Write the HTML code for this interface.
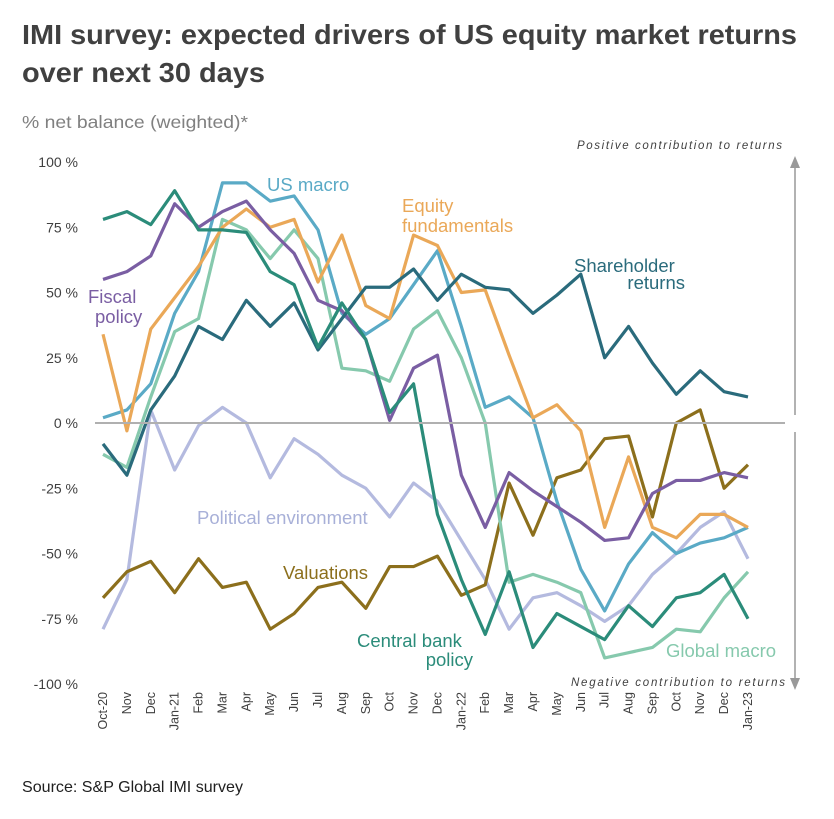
<!DOCTYPE html>
<html><head><meta charset="utf-8"><style>
body{margin:0;background:#fff;font-family:"Liberation Sans",sans-serif;}
svg text{font-family:"Liberation Sans",sans-serif;}
</style></head><body>
<svg width="834" height="814" xmlns="http://www.w3.org/2000/svg">
<text x="22" y="44" font-size="28" font-weight="bold" fill="#404040" textLength="775" lengthAdjust="spacingAndGlyphs">IMI survey: expected drivers of US equity market returns</text>
<text x="22" y="82" font-size="28" font-weight="bold" fill="#404040" textLength="243" lengthAdjust="spacingAndGlyphs">over next 30 days</text>
<text x="22" y="128" font-size="17.5" fill="#808080" textLength="226" lengthAdjust="spacingAndGlyphs">% net balance (weighted)*</text>
<g id="yaxis"></g><g id="xaxis"></g><g id="lines"></g><g id="labels"></g>
<line x1="95" y1="423" x2="785" y2="423" stroke="#b0b0b0" stroke-width="2"/>
<text x="577" y="149" font-size="11.5" font-style="italic" fill="#404040" textLength="205">Positive contribution to returns</text>
<text x="571" y="686" font-size="11.5" font-style="italic" fill="#404040" textLength="214">Negative contribution to returns</text>
<g><line x1="795" y1="165" x2="795" y2="415" stroke="#999" stroke-width="1.5"/><polygon points="790,168 800,168 795,156" fill="#999"/></g>
<g><line x1="795" y1="432" x2="795" y2="680" stroke="#999" stroke-width="1.5"/><polygon points="790,678 800,678 795,690" fill="#999"/></g>
<text x="22" y="792" font-size="16" fill="#202020" textLength="221" lengthAdjust="spacingAndGlyphs">Source: S&amp;P Global IMI survey</text>
</svg>
<script>
const months=["Oct-20","Nov","Dec","Jan-21","Feb","Mar","Apr","May","Jun","Jul","Aug","Sep","Oct","Nov","Dec","Jan-22","Feb","Mar","Apr","May","Jun","Jul","Aug","Sep","Oct","Nov","Dec","Jan-23"];
const yTicks=[100,75,50,25,0,-25,-50,-75,-100];
const shareholder=[-8,-20,5,18,37,32,47,37,46,28,40,52,52,59,47,57,52,51,42,49,57,25,37,23,11,20,12,10];
const centralBank=[78,81,76,89,74,74,73,58,53,29,46,32,4,15,-35,-60,-81,-57,-86,-73,-78,-83,-70,-78,-67,-65,-58,-75];
const globalMacro=[-12,-17,10,35,40,78,74,63,74,63,21,20,16,36,43,25,0,-61,-58,-61,-65,-90,-88,-86,-79,-80,-67,-57];
const usMacro=[2,5,15,42,58,92,92,85,87,74,42,34,40,53,66,37,6,10,2,-30,-56,-72,-54,-42,-50,-46,-44,-40];
const equityFund=[34,-3,36,48,60,75,82,75,78,54,72,45,40,72,68,50,51,26,2,7,-3,-40,-13,-40,-44,-35,-35,-40];
const fiscal=[55,58,64,84,75,81,85,74,65,47,43,32,1,21,26,-20,-40,-19,-26,-32,-38,-45,-44,-27,-22,-22,-19,-21];
const political=[-79,-60,5,-18,-1,6,0,-21,-6,-12,-20,-25,-36,-23,-30,-45,-60,-79,-67,-65,-70,-76,-70,-58,-50,-40,-34,-52];
const valuations=[-67,-57,-53,-65,-52,-63,-61,-79,-73,-63,-61,-71,-55,-55,-51,-66,-62,-23,-43,-21,-18,-6,-5,-36,0,5,-25,-16];
const NS="http://www.w3.org/2000/svg";
const xS=i=>103+i*(748-103)/(months.length-1);
const yS=v=>423-v*2.61;
function mk(t,a,p){const e=document.createElementNS(NS,t);for(const k in a)e.setAttribute(k,a[k]);p.appendChild(e);return e;}
const ya=document.getElementById('yaxis');
yTicks.forEach(v=>{const t=mk('text',{x:78,y:yS(v)+5,'font-size':14,fill:'#404040','text-anchor':'end'},ya);t.textContent=v+' %';

});
const xa=document.getElementById('xaxis');
months.forEach((m,i)=>{const x=xS(i)+4;const t=mk('text',{x:x,y:692,'font-size':12.5,fill:'#404040','text-anchor':'end',transform:`rotate(-90 ${x} 692)`},xa);t.textContent=m;

});
const series=[["political-line",political,"#b4badf"],["valuations-line",valuations,"#8c6f1c"],["global-macro-line",globalMacro,"#86c9ad"],["us-macro-line",usMacro,"#5aaac6"],["equity-fundamentals-line",equityFund,"#eaa858"],["fiscal-line",fiscal,"#7a5ea3"],["shareholder-line",shareholder,"#2a6b7c"],["central-bank-line",centralBank,"#2b8c7a"]];
const lg=document.getElementById('lines');
series.forEach(([n,d,c])=>{const p=mk('polyline',{points:d.map((v,i)=>xS(i)+','+yS(v)).join(' '),fill:'none',stroke:c,'stroke-width':3.2,'stroke-linejoin':'round'},lg);

});
const labs=[["US macro",267,191,"#5aaac6","start"],["Equity",402,212,"#eaa858","start"],["fundamentals",402,232,"#eaa858","start"],["Shareholder",574,272,"#2a6b7c","start"],["returns",685,289,"#2a6b7c","end"],["Fiscal",88,303,"#7a5ea3","start"],["policy",95,323,"#7a5ea3","start"],["Political environment",197,524,"#a8b0d8","start"],["Valuations",283,579,"#8c6f1c","start"],["Central bank",357,647,"#2b8c7a","start"],["policy",473,666,"#2b8c7a","end"],["Global macro",666,657,"#86c9ad","start"]];
const lb=document.getElementById('labels');
labs.forEach(([s,x,y,c,a])=>{const t=mk('text',{x:x,y:y,'font-size':18.5,fill:c,'text-anchor':a},lb);t.textContent=s;

});
</script>
</body></html>
